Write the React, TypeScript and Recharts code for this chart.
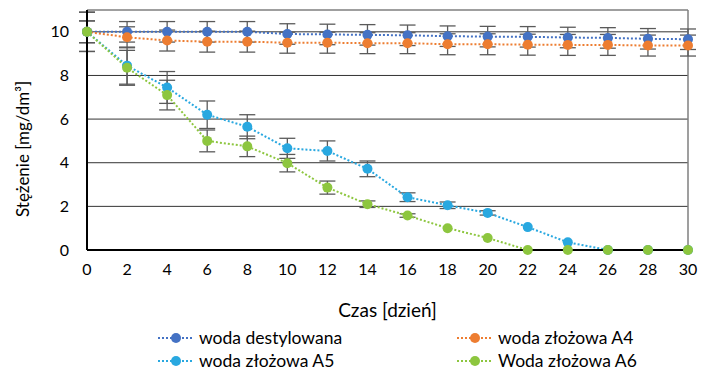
import { LineChart, Line, XAxis, YAxis, CartesianGrid, ErrorBar, ReferenceLine } from "recharts";

const days = [0, 2, 4, 6, 8, 10, 12, 14, 16, 18, 20, 22, 24, 26, 28, 30];

const destylowana = [10, 10, 10, 10, 10, 9.9, 9.88, 9.86, 9.84, 9.8, 9.78, 9.77, 9.74, 9.72, 9.68, 9.66];
const destylowanaErr = [0.5, 0.47, 0.47, 0.47, 0.47, 0.47, 0.47, 0.47, 0.47, 0.47, 0.47, 0.47, 0.47, 0.47, 0.47, 0.47];

const a4 = [10, 9.75, 9.6, 9.55, 9.55, 9.5, 9.5, 9.48, 9.48, 9.43, 9.43, 9.41, 9.4, 9.4, 9.37, 9.37];
const a4Err = [0.5, 0.48, 0.48, 0.48, 0.48, 0.48, 0.48, 0.48, 0.48, 0.48, 0.48, 0.48, 0.48, 0.48, 0.48, 0.48];

const a5 = [10, 8.45, 7.45, 6.2, 5.65, 4.66, 4.54, 3.72, 2.42, 2.05, 1.7, 1.05, 0.35, 0, 0, 0];
const a5Err = [0.9, 0.85, 0.73, 0.63, 0.55, 0.46, 0.46, 0.36, 0.2, 0.15, 0.1, 0, 0, 0, 0, 0];

const a6 = [10, 8.35, 7.1, 5.0, 4.75, 3.98, 2.86, 2.1, 1.58, 1.0, 0.55, 0, 0, 0, 0, 0];
const a6Err = [0.9, 0.8, 0.68, 0.5, 0.47, 0.4, 0.3, 0.15, 0.08, 0, 0, 0, 0, 0, 0, 0];

const xTicks = [0, 2, 4, 6, 8, 10, 12, 14, 16, 18, 20, 22, 24, 26, 28, 30];
const yTicks = [0, 2, 4, 6, 8, 10];

const series = [
  { key: "dest", err: "destErr", name: "woda destylowana", color: "#4472C4" },
  { key: "a4", err: "a4Err", name: "woda złożowa A4", color: "#ED7D31" },
  { key: "a5", err: "a5Err", name: "woda złożowa A5", color: "#29A8E0" },
  { key: "a6", err: "a6Err", name: "Woda złożowa A6", color: "#8DC63F" },
];

const data = days.map((d, i) => ({
  day: d,
  dest: destylowana[i], destErr: destylowanaErr[i],
  a4: a4[i], a4Err: a4Err[i],
  a5: a5[i], a5Err: a5Err[i],
  a6: a6[i], a6Err: a6Err[i],
}));

const font = "Lato, 'Open Sans', sans-serif";

function LegendItem({ name, color, left, top }: { name: string; color: string; left: number; top: number }) {
  return (
    <div style={{ position: "absolute", left, top, display: "flex", alignItems: "center", height: 18 }}>
      <svg width={40} height={12}>
        <line x1={1} y1={6} x2={36} y2={6} stroke={color} strokeWidth={2} strokeDasharray="2 2" />
        <circle cx={19} cy={6} r={5} fill={color} />
      </svg>
      <span style={{ fontSize: 17.5, lineHeight: "18px", color: "#000", fontFamily: font, marginLeft: 2 }}>{name}</span>
    </div>
  );
}

export default function App() {
  return (
    <div style={{ position: "absolute", left: 0, top: 0, width: 710, height: 371, background: "#fff" }}>
      <LineChart
        width={710}
        height={371}
        data={data}
        margin={{ top: 10, right: 22, left: 47, bottom: 99 }}
      >
        <CartesianGrid vertical={false} stroke="#333" horizontalValues={yTicks} />
        <ReferenceLine y={11} stroke="#7f7f7f" strokeWidth={1.5} />
        <ReferenceLine x={30} stroke="#7f7f7f" strokeWidth={1.5} />
        <XAxis
          type="number"
          dataKey="day"
          domain={[0, 30]}
          ticks={xTicks}
          tickLine={false}
          axisLine={{ stroke: "#000", strokeWidth: 2 }}
          tick={{ fill: "#000", fontSize: 16, fontFamily: font }}
          tickMargin={8}
          label={{ value: "Czas [dzień]", position: "insideBottom", offset: -45, fill: "#000", fontSize: 19, fontFamily: font }}
          height={22}
        />
        <YAxis
          type="number"
          domain={[0, 11]}
          ticks={yTicks}
          tickLine={false}
          axisLine={{ stroke: "#000", strokeWidth: 2 }}
          tick={{ fill: "#000", fontSize: 16, fontFamily: font }}
          tickMargin={12}
          width={40}
          label={{ value: "Stężenie [mg/dm³]", angle: -90, position: "insideLeft", offset: -24, dy: 87, fill: "#000", fontSize: 17, fontFamily: font }}
        />
        {series.map((s) => (
          <Line
            key={s.key}
            dataKey={s.key}
            name={s.name}
            stroke={s.color}
            strokeWidth={2}
            strokeDasharray="2 2"
            dot={{ r: 5, fill: s.color, stroke: s.color, strokeWidth: 0 }}
            activeDot={false}
            isAnimationActive={false}
          >
            <ErrorBar dataKey={s.err} direction="y" width={8} stroke="#5a5a5a" strokeWidth={1.3} />
          </Line>
        ))}
      </LineChart>
      <LegendItem name={series[0].name} color={series[0].color} left={157} top={329} />
      <LegendItem name={series[1].name} color={series[1].color} left={456} top={329} />
      <LegendItem name={series[2].name} color={series[2].color} left={157} top={352} />
      <LegendItem name={series[3].name} color={series[3].color} left={456} top={352} />
    </div>
  );
}
